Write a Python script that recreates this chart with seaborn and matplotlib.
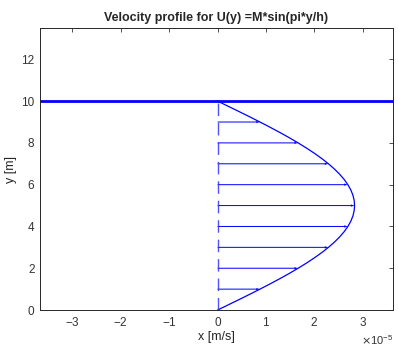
import numpy as np
import pandas as pd
import matplotlib
matplotlib.use("Agg")
import matplotlib.pyplot as plt
import seaborn as sns
from matplotlib.ticker import ScalarFormatter

# Profile curve (y in m, U in 1e-5 m/s)
curve_y = [0, 0.25, 0.5, 0.75, 1, 1.25, 1.5, 1.75, 2, 2.25, 2.5, 2.75, 3, 3.25, 3.5, 3.75,
           4, 4.25, 4.5, 4.75, 5, 5.25, 5.5, 5.75, 6, 6.25, 6.5, 6.75, 7, 7.25, 7.5, 7.75,
           8, 8.25, 8.5, 8.75, 9, 9.25, 9.5, 9.75, 10]
curve_u = [0, 0.222, 0.443, 0.661, 0.875, 1.083, 1.285, 1.479, 1.663, 1.838, 2.001, 2.152,
           2.290, 2.413, 2.521, 2.615, 2.691, 2.752, 2.795, 2.821, 2.830, 2.821, 2.795, 2.752,
           2.691, 2.615, 2.521, 2.413, 2.290, 2.152, 2.001, 1.838, 1.663, 1.479, 1.285, 1.083,
           0.875, 0.661, 0.443, 0.222, 0]

# Arrows
arrow_y = [1, 2, 3, 4, 5, 6, 7, 8, 9]
arrow_u = [0.875, 1.663, 2.290, 2.691, 2.830, 2.691, 2.290, 1.663, 0.875]

wall_y = 10
xticks = [-3, -2, -1, 0, 1, 2, 3]
yticks = [0, 2, 4, 6, 8, 10, 12]

sns.set_style("white")
plt.rcParams['font.family'] = ['Liberation Sans', 'DejaVu Sans']
plt.rcParams['axes.unicode_minus'] = False

fig = plt.figure(figsize=(3.98, 3.45), dpi=100)
ax = fig.add_axes([0.1005, 0.1014, 0.8865, 0.8174])

scale = 1e-5
df = pd.DataFrame({"u": np.array(curve_u) * scale, "y": curve_y})
sns.lineplot(data=df, x="u", y="y", sort=False, estimator=None, color="#0000ff", lw=0.9, ax=ax)

# dashed centre line
ax.plot([0, 0], [0, wall_y], color="#3333ff", lw=1.0, dashes=(9, 5), alpha=0.85)

# arrows
ax.quiver(np.zeros(len(arrow_y)), arrow_y, np.array(arrow_u) * scale, np.zeros(len(arrow_y)),
          angles='xy', scale_units='xy', scale=1, color="#0000ff", width=0.0028,
          headwidth=2.5, headlength=4, headaxislength=3.5)

# wall
ax.axhline(wall_y, color="#0000ff", lw=2)

ax.set_xlim(-3.67e-5, 3.62e-5)
ax.set_ylim(0, 13.5)
ax.set_xticks(np.array(xticks) * scale)
ax.set_yticks(yticks)
fmt = ScalarFormatter(useMathText=True)
fmt.set_powerlimits((0, 0))
ax.xaxis.set_major_formatter(fmt)
ax.xaxis.get_offset_text().set_fontsize(8)
ax.xaxis.get_offset_text().set_color("#444444")

ax.tick_params(direction='in', length=3, width=0.6, top=True, right=True,
               labelsize=8.5, colors="#333333", pad=4)
for s in ax.spines.values():
    s.set_color("#262626")
    s.set_linewidth(0.7)

ax.set_xlabel("x [m/s]", fontsize=9, color="#262626", labelpad=2)
ax.set_ylabel("y [m]", fontsize=9, color="#262626", labelpad=3)
ax.set_title("Velocity profile for U(y) =M*sin(pi*y/h)", fontsize=9, fontweight='bold', pad=5)

fig.savefig("out.png", dpi=100)
